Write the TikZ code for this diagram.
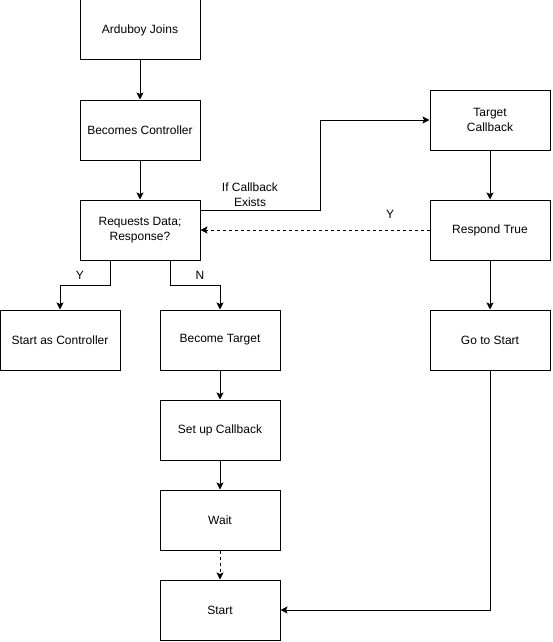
\documentclass[tikz,border=0pt]{standalone}
\usepackage{fontspec}
\setmainfont{Liberation Sans}
\usetikzlibrary{arrows.meta}

\begin{document}
\begin{tikzpicture}[x=1pt,y=-1pt,
  box/.style={draw,line width=1pt,minimum width=120pt,minimum height=60pt,inner sep=0pt,align=center,font=\fontsize{12}{15}\selectfont},
  lbl/.style={align=center,inner sep=0pt,font=\fontsize{12}{15}\selectfont},
  arr/.style={line width=1pt,-{Stealth[length=7pt,width=7pt,inset=1.5pt]}},
  dsh/.style={dash pattern=on 3pt off 3pt}]
\useasboundingbox (0,0) rectangle (552,642);
% left column
\node[box] (join) at (140,30) {Arduboy Joins};
\node[box] (ctrl) at (140,130) {Becomes Controller};
\node[box] (req) at (140,230) {Requests Data;\\Response?};
\node[box] (startctrl) at (60,340) {Start as Controller};
\node[box] (target) at (220,340) {Become Target};
\node[box] (setup) at (220,430) {Set up Callback};
\node[box] (wait) at (220,520) {Wait};
\node[box] (start) at (220,610) {Start};
% right column
\node[box] (tcb) at (490,120) {Target\\Callback};
\node[box] (resp) at (490,230) {Respond True};
\node[box] (gostart) at (490,340) {Go to Start};
% connectors
\draw[arr] (join) -- (ctrl);
\draw[arr] (ctrl) -- (req);
\draw[arr] ([xshift=-30pt]req.south) -- ++(0,25) -| (startctrl.north);
\draw[arr] ([xshift=30pt]req.south) -- ++(0,25) -| (target.north);
\draw[arr] ([yshift=20pt]req.east) -- (320,210) |- (tcb.west);
\draw[arr,dsh] (resp.west) -- (req.east);
\draw[arr] (tcb) -- (resp);
\draw[arr] (resp) -- (gostart);
\draw[arr] (gostart.south) |- (start.east);
\draw[arr] (target) -- (setup);
\draw[arr] (setup) -- (wait);
\draw[arr,dsh] (wait) -- (start);
% labels
\node[lbl] (ly) at (80,275) {Y};
\node[lbl] (ln) at (200,275) {N};
\node[lbl] (lif) at (250,195) {If Callback\\Exists};
\node[lbl] (lresp) at (390,214) {Y};
\end{tikzpicture}
\end{document}
